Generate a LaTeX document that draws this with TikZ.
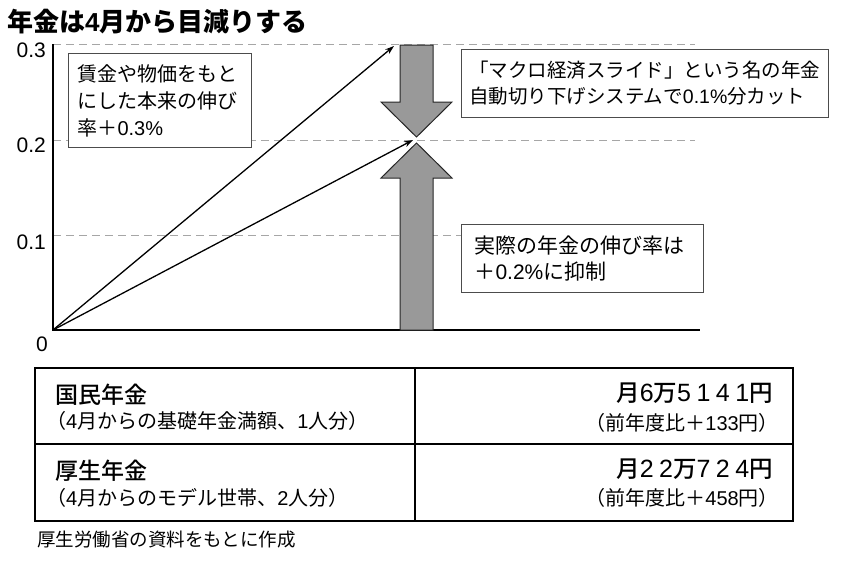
\documentclass[tikz,border=0pt]{standalone}
\usepackage{fontspec}
\setmainfont{Noto Sans CJK JP}
\newfontfamily\jpmed{Noto Sans CJK JP Medium}
\newfontfamily\arialfont{Liberation Sans}
\newfontfamily\amountfont[LetterSpace=22]{Liberation Sans}
\newcommand{\latn}[1]{{\arialfont #1}}
\newcommand{\amt}[1]{{\amountfont\fontsize{25}{26}\selectfont #1}}
\usetikzlibrary{arrows.meta}
\tikzset{
  note/.style={rectangle, draw=black!70, line width=1pt, fill=white, anchor=north west, align=left, inner sep=0pt},
  grid line/.style={draw=black!35, line width=1pt, dash pattern=on 8pt off 5pt},
  block/.style={fill=black!40, draw=black!85, line width=1pt},
  cell/.style={inner sep=0pt},
}
\begin{document}
\begin{tikzpicture}
  [x=1pt,y=-1pt,>={Stealth[length=9pt,width=6pt]}]
  \useasboundingbox (0,0) rectangle (846,560);
  \node[cell, anchor=west, font=\bfseries\fontsize{26}{30}\selectfont] (title) at (7,22) {年金は\latn{4}月から目減りする};

  \coordinate (o) at (53,330);
  \coordinate (ytop) at (53,44);
  \coordinate (xend) at (700,330);
  \coordinate (tip_hi) at (394,46);
  \coordinate (tip_lo) at (413,140);

  \draw[grid line] (53,44) -- (695,44);
  \draw[grid line] (53,140) -- (695,140);
  \draw[grid line] (53,235) -- (695,235);
  \draw[line width=1.5pt] (ytop) -- (o) -- (xend);

  \node[cell, anchor=east, font=\arialfont\fontsize{21}{24}\selectfont] (y3) at (46,50) {0.3};
  \node[cell, anchor=east, font=\arialfont\fontsize{21}{24}\selectfont] (y2) at (46,145) {0.2};
  \node[cell, anchor=east, font=\arialfont\fontsize{21}{24}\selectfont] (y1) at (46,242) {0.1};
  \node[cell, font=\arialfont\fontsize{21}{24}\selectfont] (y0) at (42,344) {0};

  \draw[line width=1.3pt, ->] (o) -- (tip_hi);
  \draw[line width=1.3pt, ->] (o) -- (tip_lo);

  \draw[block] (400,45) -- (433,45) -- (433,102) -- (452,102) -- (416.5,137) -- (381,102) -- (400,102) -- cycle;
  \draw[block] (400,330) -- (433,330) -- (433,178) -- (452,178) -- (416.5,143) -- (381,178) -- (400,178) -- cycle;

  \node[note, minimum width=183pt, minimum height=94pt, text width=165pt, font=\fontsize{20}{27}\selectfont] (wage_note) at (68,53)
    {賃金や物価をもと\\にした本来の伸び\\率＋\latn{0.3\%}};
  \node[note, minimum width=367pt, minimum height=68pt, text width=352pt, font=\fontsize{19.5}{26}\selectfont] (slide_note) at (461,49)
    {「マクロ経済スライド」という名の年金\\自動切り下げシステムで\latn{0.1\%}分カット};
  \node[note, minimum width=242pt, minimum height=68pt, text width=216pt, font=\fontsize{21}{26}\selectfont] (real_note) at (461,224)
    {実際の年金の伸び率は\\＋\latn{0.2\%}に抑制};

  \draw[line width=1.5pt] (35,368) rectangle (793,521);
  \draw[line width=1.5pt] (35,444) -- (793,444);
  \draw[line width=1.5pt] (415,368) -- (415,521);

  \node[cell, anchor=west, font=\jpmed\fontsize{23}{26}\selectfont] (kokumin) at (55,395) {国民年金};
  \node[cell, anchor=west, font=\fontsize{20}{24}\selectfont] (kokumin_sub) at (46,421) {（\latn{4}月からの基礎年金満額、\latn{1}人分）};
  \node[cell, anchor=east, font=\jpmed\fontsize{23.5}{26}\selectfont] (kokumin_amt) at (773,393) {月\amt{6}万\amt{5141}円};
  \node[cell, anchor=east, font=\fontsize{20}{24}\selectfont] (kokumin_diff) at (779,423) {（前年度比＋\latn{133}円）};

  \node[cell, anchor=west, font=\jpmed\fontsize{23}{26}\selectfont] (kosei) at (55,471) {厚生年金};
  \node[cell, anchor=west, font=\fontsize{20}{24}\selectfont] (kosei_sub) at (46,498) {（\latn{4}月からのモデル世帯、\latn{2}人分）};
  \node[cell, anchor=east, font=\jpmed\fontsize{23.5}{26}\selectfont] (kosei_amt) at (773,469) {月\amt{22}万\amt{724}円};
  \node[cell, anchor=east, font=\fontsize{20}{24}\selectfont] (kosei_diff) at (779,498) {（前年度比＋\latn{458}円）};

  \node[cell, anchor=west, font=\fontsize{18.5}{22}\selectfont] (source) at (37,540) {厚生労働省の資料をもとに作成};
\end{tikzpicture}
\end{document}
